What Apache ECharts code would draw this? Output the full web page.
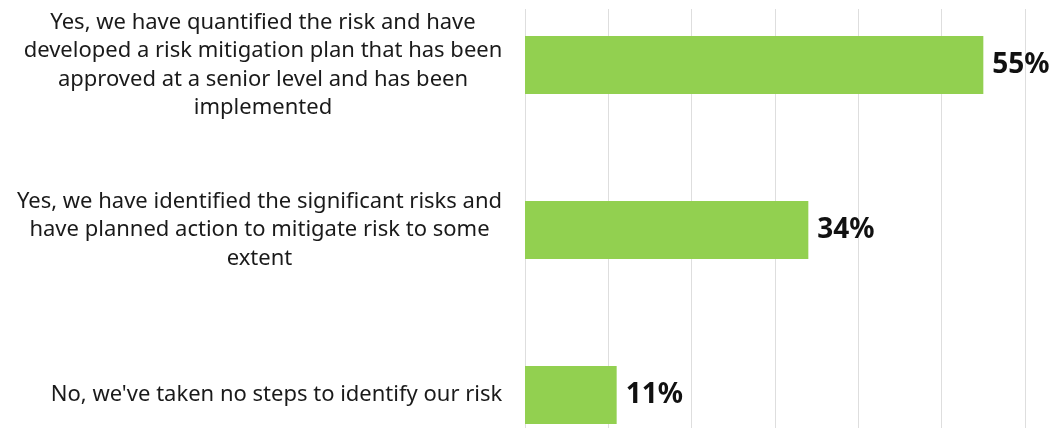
<!DOCTYPE html>
<html><head><meta charset="utf-8">
<script src="https://cdn.jsdelivr.net/npm/echarts@6/dist/echarts.min.js"></script>
<style>html,body{margin:0;padding:0;background:#fff}#c{width:1056px;height:428px}</style>
</head><body><div id="c"></div>
<script>
const categories = [
  "Yes, we have quantified the risk and have\ndeveloped a risk mitigation plan that has been\napproved at a senior level and has been\nimplemented",
  "Yes, we have identified the significant risks and\nhave planned action to mitigate risk to some\nextent",
  "No, we've taken no steps to identify our risk"
];
const values = [55, 34, 11];
const xMin = 0, xMax = 60, xStep = 10;

const font = 'Noto Sans';
const fontSize = 22;
const cv = document.createElement('canvas').getContext('2d');
cv.font = fontSize + 'px "' + font + '"';
const rich = {};
categories.forEach((c, i) => {
  const w = Math.max(...c.split('\n').map(s => cv.measureText(s).width));
  rich['a' + i] = {width: Math.ceil(w) + 1, align: 'center', fontFamily: font, fontSize: fontSize, lineHeight: 28.5, color: '#1a1a1a'};
});

const chart = echarts.init(document.getElementById('c'), null, {renderer: 'canvas'});
chart.setOption({
  animation: false,
  backgroundColor: '#fff',
  grid: [
    {left: 525, right: 31, top: 9, bottom: 0, containLabel: false},
    {left: 525, right: 31, top: 65, bottom: 33, containLabel: false}
  ],
  xAxis: [
    {gridIndex: 0, type: 'value', min: xMin, max: xMax, interval: xStep,
     axisLabel: {show: false}, axisLine: {show: false}, axisTick: {show: false},
     splitLine: {show: true, lineStyle: {color: '#dedede', width: 1}}},
    {gridIndex: 1, type: 'value', min: xMin, max: xMax, interval: xStep, show: false,
     splitLine: {show: false}}
  ],
  yAxis: [
    {gridIndex: 0, type: 'category', data: categories, show: false},
    {gridIndex: 1, type: 'category', data: categories, inverse: true, boundaryGap: false,
     axisLine: {show: false}, axisTick: {show: false}, splitLine: {show: false},
     axisLabel: {
       margin: 22, align: 'right',
       formatter: (v, i) => v.split('\n').map(s => '{a' + i + '|' + s + '}').join('\n'),
       rich: rich
     }}
  ],
  series: [{
    type: 'bar', xAxisIndex: 1, yAxisIndex: 1, data: values, barWidth: 58,
    itemStyle: {color: '#92D050'},
    label: {show: true, position: 'right', distance: 9, formatter: '{c}%',
      fontFamily: font, fontWeight: 'bold', fontSize: 28, color: '#111'}
  }]
});
</script></body></html>
